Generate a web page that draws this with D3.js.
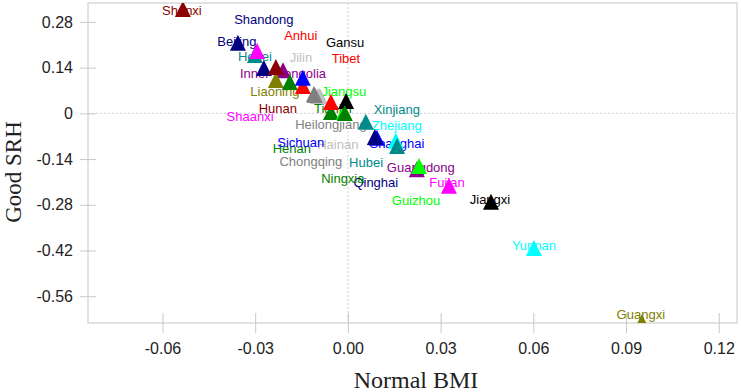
<!DOCTYPE html>
<html>
<head>
<meta charset="utf-8">
<script src="https://cdn.jsdelivr.net/npm/d3@7"></script>
<style>
  body { margin: 0; background: #fff; }
  svg { display: block; }
</style>
</head>
<body>
<svg width="741" height="392"></svg>
<script>
// provinces in the usual order, colours cycle through a 14-colour palette
const provinces = ["Beijing", "Tianjin", "Hebei", "Shanxi", "Inner mongolia", "Liaoning", "Jilin",
  "Heilongjiang", "Shanghai", "Jiangsu", "Zhejiang", "Anhui", "Fujian", "Jiangxi", "Shandong",
  "Henan", "Hubei", "Hunan", "Guangdong", "Guangxi", "Hainan", "Chongqing", "Sichuan", "Guizhou",
  "Yunnan", "Tibet", "Shaanxi", "Gansu", "Qinghai", "Ningxia", "Xinjiang"];

const normalBMI = [-0.0356, -0.0055, -0.0301, -0.0534, -0.0210, -0.0233, -0.0097,
  -0.0110, 0.0094, -0.0013, 0.0155, -0.0146, 0.0327, 0.0463, -0.0272,
  -0.0188, 0.0159, -0.0233, 0.0223, 0.0951, -0.0091, -0.0107, -0.0146, 0.0230,
  0.0602, -0.0055, -0.0294, -0.0006, 0.0087, -0.0010, 0.0058];

const goodSRH = [0.216, 0.004, 0.179, 0.320, 0.132, 0.102, 0.053,
  0.059, -0.075, 0.004, -0.084, 0.084, -0.222, -0.271, 0.139,
  0.096, -0.100, 0.142, -0.171, -0.639, 0.053, 0.056, 0.109, -0.161,
  -0.412, 0.035, 0.191, 0.038, -0.072, 0.001, -0.026];

const xTicks = [-0.06, -0.03, 0, 0.03, 0.06, 0.09, 0.12];
const yTicks = [0.28, 0.14, 0, -0.14, -0.28, -0.42, -0.56];

const palette = ["#000080", "#008000", "#008B8B", "#8B0000", "#8B008B", "#808000", "#C0C0C0",
  "#808080", "#0000FF", "#00FF00", "#00FFFF", "#FF0000", "#FF00FF", "#000000"];

// label placement (pixel offsets from each marker)
const labelOffsets = [[-1, -1], [2, -4], [0, 2], [-1, 2], [0, 3], [-1, 11], [-17, -39],
  [17, 30], [20, 6], [0, -21], [1, -15], [-2, -50], [-2, -3], [-1, -2], [0, -49],
  [2, 66], [-31, 16], [2, 41], [4, -2], [-1, -8], [18, 48], [-4, 66], [-2, 65], [-3, 35],
  [0, -2], [15, -43], [-7, 65], [-1, -59], [1, 46], [-2, 65], [31, -12]];

const svg = d3.select("svg");
const plot = { left: 88, right: 737, top: 3, bottom: 323 };

const x = d3.scaleLinear().domain([-0.0841, 0.1259]).range([plot.left, plot.right]);
const y = d3.scaleLinear().domain([-0.642, 0.338]).range([plot.bottom, plot.top]);

// plain hyphen for negatives, like the original
const fmt2 = d3.formatLocale({ decimal: ".", thousands: ",", grouping: [3], currency: ["", ""], minus: "-" }).format(".2f");

const rows = provinces.map((name, i) => ({
  name,
  bmi: normalBMI[i],
  srh: goodSRH[i],
  color: palette[i % palette.length],
  dx: labelOffsets[i][0],
  dy: labelOffsets[i][1]
}));

svg.append("defs").append("clipPath").attr("id", "clip")
  .append("rect")
  .attr("x", plot.left).attr("y", plot.top)
  .attr("width", plot.right - plot.left).attr("height", plot.bottom - plot.top);

// frame
svg.append("rect")
  .attr("x", plot.left).attr("y", plot.top)
  .attr("width", plot.right - plot.left).attr("height", plot.bottom - plot.top)
  .attr("fill", "none").attr("stroke", "#cfcfcf").attr("stroke-width", 1.2);

// zero reference lines
svg.append("line")
  .attr("x1", x(0)).attr("x2", x(0)).attr("y1", plot.top).attr("y2", plot.bottom)
  .attr("stroke", "#cfcfcf").attr("stroke-dasharray", "2,2");
svg.append("line")
  .attr("x1", plot.left).attr("x2", plot.right).attr("y1", y(0)).attr("y2", y(0))
  .attr("stroke", "#cfcfcf").attr("stroke-dasharray", "2,2");

// axes
const xAxis = svg.append("g")
  .attr("transform", `translate(0,${plot.bottom})`)
  .call(d3.axisBottom(x).tickValues(xTicks).tickFormat(fmt2).tickSize(10).tickPadding(10));
xAxis.select(".domain").remove();
xAxis.selectAll(".tick line").attr("y1", -10).attr("stroke", "#c8c8c8");
xAxis.selectAll(".tick text")
  .attr("font-family", "Liberation Sans, Arial, sans-serif")
  .attr("font-size", 16).attr("fill", "#222");

const yAxis = svg.append("g")
  .attr("transform", `translate(${plot.left},0)`)
  .call(d3.axisLeft(y).tickValues(yTicks).tickFormat((d) => d === 0 ? "0" : fmt2(d)).tickSize(8).tickPadding(7));
yAxis.select(".domain").remove();
yAxis.selectAll(".tick line").attr("x1", 8).attr("stroke", "#c8c8c8");
yAxis.selectAll(".tick text")
  .attr("font-family", "Liberation Sans, Arial, sans-serif")
  .attr("font-size", 16).attr("fill", "#222");

// axis titles
svg.append("text")
  .attr("x", 416).attr("y", 388)
  .attr("text-anchor", "middle")
  .attr("font-family", "Liberation Serif, Times New Roman, serif")
  .attr("font-size", 24).attr("fill", "#222")
  .text("Normal BMI");

svg.append("text")
  .attr("transform", `translate(21,${(plot.top + plot.bottom) / 2 + 9}) rotate(-90)`)
  .attr("text-anchor", "middle")
  .attr("font-family", "Liberation Serif, Times New Roman, serif")
  .attr("font-size", 23).attr("fill", "#222")
  .text("Good SRH");

// labels under the markers
svg.append("g").selectAll("text")
  .data(rows)
  .join("text")
  .attr("x", (d) => x(d.bmi) + d.dx)
  .attr("y", (d) => y(d.srh) + d.dy)
  .attr("dy", "0.35em")
  .attr("text-anchor", "middle")
  .attr("font-family", "Liberation Sans, Arial, sans-serif")
  .attr("font-size", 13)
  .attr("fill", (d) => d.color)
  .text((d) => d.name);

const tri = (cx, cy) => `M${cx},${cy - 8}L${cx + 8},${cy + 8}L${cx - 8},${cy + 8}Z`;

svg.append("g").attr("clip-path", "url(#clip)")
  .selectAll("path")
  .data(rows)
  .join("path")
  .attr("d", (d) => tri(x(d.bmi), y(d.srh)))
  .attr("fill", (d) => d.color);
</script>
</body>
</html>
